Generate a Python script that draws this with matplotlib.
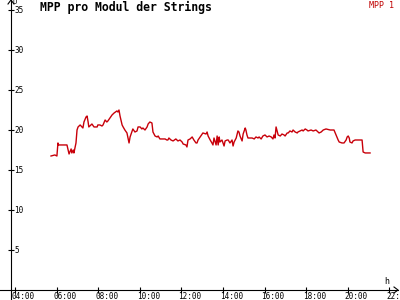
import matplotlib
matplotlib.use("Agg")
import matplotlib.pyplot as plt
from matplotlib.lines import Line2D

# MPP per module, sampled over the day
times = [
    "05:44", "05:55", "06:01", "06:04", "06:06", "06:30", "06:36", "06:42", "06:44", "06:48",
    "06:50", "06:56", "06:59", "07:02", "07:08", "07:13", "07:16", "07:19", "07:25", "07:28",
    "07:31", "07:33", "07:39", "07:42", "07:48", "07:57", "07:59", "08:05", "08:11", "08:14",
    "08:20", "08:25", "08:28", "08:40", "08:46", "08:54", "08:57", "09:00", "09:03", "09:09",
    "09:12", "09:17", "09:23", "09:26", "09:29", "09:32", "09:38", "09:40", "09:46", "09:52",
    "09:55", "10:01", "10:06", "10:09", "10:15", "10:21", "10:24", "10:29", "10:35", "10:38",
    "10:44", "10:50", "10:53", "10:58", "11:07", "11:13", "11:18", "11:21", "11:24", "11:30",
    "11:36", "11:44", "11:50", "11:56", "12:02", "12:05", "12:13", "12:16", "12:19", "12:25",
    "12:31", "12:36", "12:42", "12:45", "12:48", "12:54", "13:00", "13:02", "13:11", "13:14",
    "13:17", "13:23", "13:28", "13:31", "13:34", "13:40", "13:43", "13:46", "13:49", "13:51",
    "13:57", "14:03", "14:06", "14:12", "14:15", "14:20", "14:26", "14:29", "14:32", "14:38",
    "14:43", "14:46", "14:49", "14:55", "14:58", "15:04", "15:06", "15:09", "15:12", "15:24",
    "15:30", "15:35", "15:41", "15:44", "15:50", "15:55", "16:01", "16:07", "16:13", "16:19",
    "16:24", "16:27", "16:30", "16:33", "16:36", "16:39", "16:45", "16:50", "16:56", "16:59",
    "17:05", "17:08", "17:13", "17:19", "17:22", "17:28", "17:34", "17:36", "17:42", "17:48",
    "17:51", "17:57", "18:02", "18:05", "18:14", "18:20", "18:28", "18:34", "18:37", "18:43",
    "18:49", "18:57", "19:09", "19:20", "19:26", "19:32", "19:35", "19:43", "19:49", "19:55",
    "19:58", "20:01", "20:04", "20:06", "20:12", "20:15", "20:21", "20:41", "20:44", "20:50",
    "21:04",
]
values = [
    16.75, 16.88, 16.75, 18.38, 18.13, 18.13, 17.0, 17.63, 17.13, 17.5,
    17.13, 18.38, 20.0, 20.38, 20.63, 20.38, 20.25, 21.0, 21.63, 21.75,
    21.0, 20.38, 20.63, 20.75, 20.38, 20.38, 20.63, 20.63, 20.5, 20.63,
    21.25, 21.0, 21.13, 21.88, 22.13, 22.38, 22.25, 22.5, 21.75, 20.63,
    20.38, 20.0, 19.63, 19.0, 18.38, 19.13, 19.88, 20.13, 19.75, 19.88,
    20.38, 20.38, 20.13, 20.25, 20.0, 20.38, 20.75, 21.0, 20.88, 19.75,
    19.25, 19.13, 19.25, 18.88, 18.88, 18.88, 18.75, 18.75, 19.0, 18.75,
    18.63, 18.88, 18.63, 18.75, 18.5, 18.25, 18.13, 17.88, 18.75, 18.88,
    19.13, 18.75, 18.38, 18.38, 18.75, 19.13, 19.5, 19.63, 19.5, 19.75,
    19.25, 18.75, 18.38, 18.13, 19.0, 18.13, 19.25, 18.13, 19.13, 18.5,
    18.75, 18.0, 18.63, 18.75, 18.75, 18.38, 18.75, 18.0, 18.5, 19.0,
    19.88, 19.75, 19.25, 18.63, 19.5, 20.25, 20.0, 19.38, 19.0, 19.0,
    18.88, 19.13, 19.0, 19.13, 18.88, 19.25, 19.38, 19.13, 19.25, 19.13,
    18.88, 19.38, 19.0, 20.38, 19.88, 19.38, 19.25, 19.5, 19.38, 19.25,
    19.63, 19.63, 19.88, 19.75, 20.0, 19.75, 19.63, 19.75, 19.88, 20.0,
    19.88, 20.13, 20.0, 19.88, 20.0, 19.88, 20.0, 19.75, 19.63, 19.75,
    20.0, 20.13, 20.0, 20.0, 19.38, 18.75, 18.5, 18.38, 18.38, 18.75,
    19.13, 19.25, 19.0, 18.5, 18.38, 18.63, 18.75, 18.75, 17.25, 17.13,
    17.13,
]
x_ticks = ["04:00", "06:00", "08:00", "10:00", "12:00", "14:00", "16:00", "18:00", "20:00", "22:00"]
y_ticks = [5, 10, 15, 20, 25, 30, 35]


def to_hours(s):
    h, m = s.split(":")
    return int(h) + int(m) / 60


hours = [to_hours(t) for t in times]
mono = "DejaVu Sans Mono"

fig = plt.figure(figsize=(4, 3), dpi=100)
fig.patch.set_facecolor("white")
ax = fig.add_axes([11 / 400, 10 / 300, 387 / 400, 290 / 300])
ax.set_xlim(3.81, 22.41)
ax.set_ylim(0, 36.25)
ax.patch.set_alpha(0)

ax.plot(hours, values, color="#c8000a", lw=1.0)

for s in ax.spines.values():
    s.set_visible(False)

ax.set_xticks([to_hours(t) for t in x_ticks])
ax.set_yticks(y_ticks)
ax.tick_params(direction="inout", length=4, width=0.8, color="black",
               labelleft=False, labelbottom=False)

# tick labels: y labels sit right of the axis, x labels start at the tick
for v in y_ticks:
    ax.annotate(str(v), xy=(0, v), xycoords=ax.get_yaxis_transform(),
                xytext=(2.2, -0.5), textcoords="offset points",
                ha="left", va="center", fontsize=5.5, family=mono)
for t in x_ticks:
    ax.annotate(t, xy=(to_hours(t), 0), xycoords=ax.get_xaxis_transform(),
                xytext=(-2.2, -1.2), textcoords="offset points",
                ha="left", va="top", fontsize=5.5, family=mono)

# axis lines with arrow heads, in pixel units
def px_line(xs, ys):
    fig.add_artist(Line2D([x / 400 for x in xs], [1 - y / 300 for y in ys],
                          transform=fig.transFigure, color="black", lw=0.8))

px_line([11, 11], [0, 300])
px_line([0, 398], [290, 290])
px_line([8, 11, 14], [4, 0, 4])
px_line([394, 398, 394], [287, 290, 293])

fig.text(40 / 400, 1 - 7 / 300, "MPP pro Modul der Strings", ha="left", va="center",
         fontsize=8.3, fontweight="bold", family=mono)
fig.text(394 / 400, 1 - 5.5 / 300, "MPP 1", ha="right", va="center",
         fontsize=6, color="#c00000", family=mono)
fig.text(15 / 400, 1 - 2 / 300, "U", ha="center", va="center", fontsize=5, family=mono)
fig.text(387 / 400, 1 - 281 / 300, "h", ha="center", va="center", fontsize=6, family=mono)

fig.savefig("out.png", dpi=100)
